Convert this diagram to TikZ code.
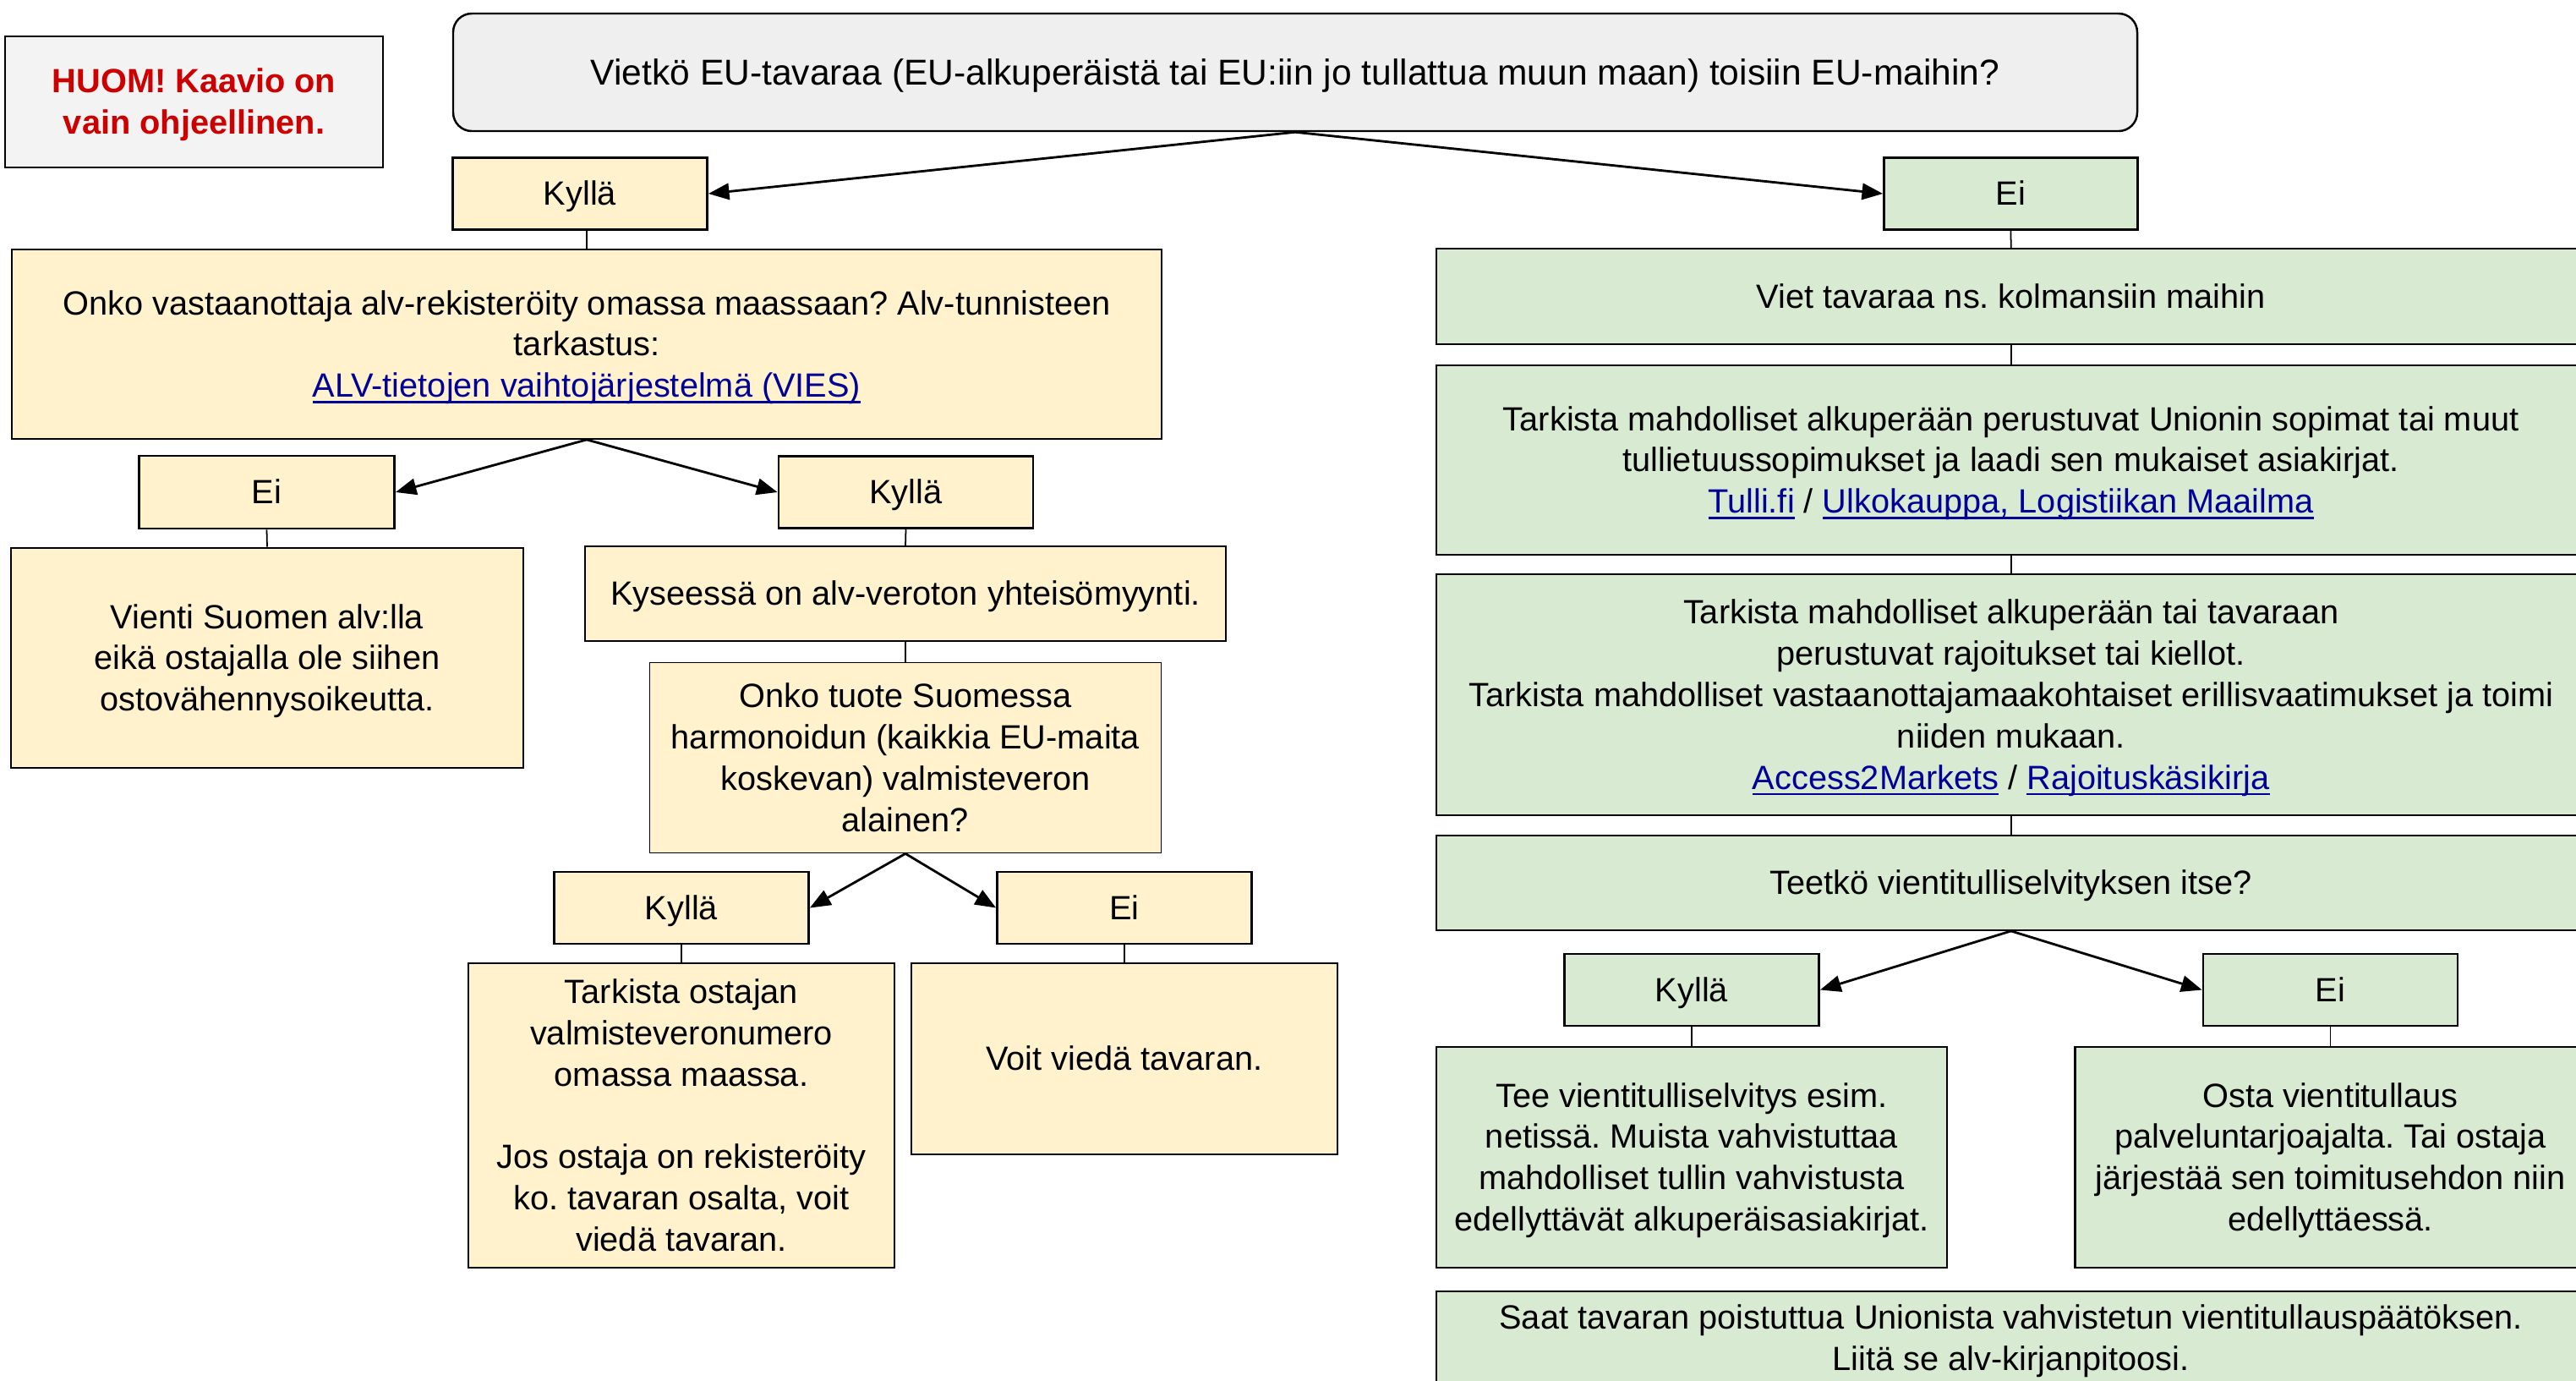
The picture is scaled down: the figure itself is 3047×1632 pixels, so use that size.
\documentclass[tikz,border=0pt]{standalone}
\usepackage{fontspec}
\setmainfont{Liberation Sans}
\usetikzlibrary{arrows.meta}
\frenchspacing
\definecolor{yel}{HTML}{FFF2CC}
\definecolor{grn}{HTML}{D9EAD3}
\definecolor{topgray}{HTML}{EFEFEF}
\definecolor{huomgray}{HTML}{F3F3F3}
\definecolor{huomred}{HTML}{CC0000}
\definecolor{linkblue}{HTML}{000099}
\newsavebox{\lnkbox}
\newcommand{\lnk}[1]{\textcolor{linkblue}{\sbox{\lnkbox}{#1}\rlap{\rule[-2pt]{\wd\lnkbox}{0.75pt}}\usebox{\lnkbox}}}
\newcommand{\fsz}{\fontsize{11.3}{13.9}\selectfont}
\newcommand{\topstrut}{\rule{0pt}{0.938em}}
\newcommand{\botstrut}{\rule[-0.239em]{0pt}{0.239em}}
\newcommand{\tx}[1]{\topstrut#1\botstrut}
\tikzset{
  wh/.style 2 args={minimum width=#1*0.01cm, minimum height=#2*0.01cm},
  basebox/.style={draw=black, inner sep=0pt, align=center, font=\fsz, line width=0.5pt},
  yelbox/.style={basebox, fill=yel},
  grnbox/.style={basebox, fill=grn},
  heavy/.style={line width=0.8pt},
  conn/.style={line width=0.5pt},
  arr/.style={line width=0.8pt, -{Triangle[length=7pt,width=5.5pt]}},
}
\begin{document}
\begin{tikzpicture}[x=0.01cm, y=-0.01cm]
\useasboundingbox (0,0) rectangle (3047,1632);
\clip (0,0) rectangle (3047,1632);
\fill[white] (0,0) rectangle (3047,1632);

% note box
\node[basebox, fill=huomgray, wh={447}{155}, font=\fsz\bfseries, text=huomred] (huom) at (229.5,120.5) {\tx{HUOM! Kaavio on\\vain ohjeellinen.}};

% top question
\node[basebox, fill=topgray, rounded corners=0.22cm, line width=0.7pt, wh={1992}{139}, font=\fontsize{12.1}{14.9}\selectfont] (top) at (1532,85.5) {\tx{Vietkö EU-tavaraa (EU-alkuperäistä tai EU:iin jo tullattua muun maan) toisiin EU-maihin?}};

\node[yelbox, heavy, wh={301}{85}] (kyl1) at (686,229) {\tx{Kyllä}};
\node[grnbox, heavy, wh={300}{85}] (ei1) at (2378.5,229) {\tx{Ei}};

% left branch
\node[yelbox, wh={1360}{224}] (q1) at (694,407) {\tx{Onko vastaanottaja alv-rekisteröity omassa maassaan? Alv-tunnisteen\\tarkastus:\\\lnk{ALV-tietojen vaihtojärjestelmä (VIES)}}};
\node[yelbox, heavy, wh={302}{86}] (ei2) at (315.5,582) {\tx{Ei}};
\node[yelbox, heavy, wh={301}{85}] (kyl2) at (1071.5,582) {\tx{Kyllä}};
\node[yelbox, heavy, wh={606}{260}] (vienti) at (316,778) {\tx{Vienti Suomen alv:lla\\eikä ostajalla ole siihen\\ostovähennysoikeutta.}};
\node[yelbox, wh={758}{112}] (kys) at (1071,702) {\tx{Kyseessä on alv-veroton yhteisömyynti.}};
\node[yelbox, wh={605}{225}] (onko) at (1071,896) {\tx{Onko tuote Suomessa\\harmonoidun (kaikkia EU-maita\\koskevan) valmisteveron\\alainen?}};
\node[yelbox, heavy, wh={301}{85}] (kyl3) at (806,1073.5) {\tx{Kyllä}};
\node[yelbox, heavy, wh={301}{85}] (ei3) at (1330,1073.5) {\tx{Ei}};
\node[yelbox, heavy, wh={504}{360}] (tark3) at (806,1319) {\tx{Tarkista ostajan\\valmisteveronumero\\omassa maassa.\\[13.9pt]Jos ostaja on rekisteröity\\ko. tavaran osalta, voit\\viedä tavaran.}};
\node[yelbox, heavy, wh={504}{226}] (voit) at (1330,1252) {\tx{Voit viedä tavaran.}};

% right branch
\node[grnbox, wh={1359}{113}] (viet) at (2378.7,350.5) {\tx{Viet tavaraa ns. kolmansiin maihin}};
\node[grnbox, wh={1359}{224}] (tark1) at (2378.7,544) {\tx{Tarkista mahdolliset alkuperään perustuvat Unionin sopimat tai muut\\tullietuussopimukset ja laadi sen mukaiset asiakirjat.\\\lnk{Tulli.fi} / \lnk{Ulkokauppa, Logistiikan Maailma}}};
\node[grnbox, wh={1359}{285}] (tark2) at (2378.7,821.6) {\tx{Tarkista mahdolliset alkuperään tai tavaraan\\perustuvat rajoitukset tai kiellot.\\Tarkista mahdolliset vastaanottajamaakohtaiset erillisvaatimukset ja toimi\\niiden mukaan.\\\lnk{Access2Markets} / \lnk{Rajoituskäsikirja}}};
\node[grnbox, wh={1359}{112}] (teet) at (2378.7,1044) {\tx{Teetkö vientitulliselvityksen itse?}};
\node[grnbox, heavy, wh={301}{85}] (kyl4) at (2001,1170.5) {\tx{Kyllä}};
\node[grnbox, heavy, wh={301}{85}] (ei4) at (2756.5,1170.5) {\tx{Ei}};
\node[grnbox, heavy, wh={604}{261}] (tee) at (2001,1368.5) {\tx{Tee vientitulliselvitys esim.\\netissä. Muista vahvistuttaa\\mahdolliset tullin vahvistusta\\edellyttävät alkuperäisasiakirjat.}};
\node[grnbox, heavy, wh={604}{261}] (osta) at (2756.5,1368.5) {\tx{Osta vientitullaus\\palveluntarjoajalta. Tai ostaja\\järjestää sen toimitusehdon niin\\edellyttäessä.}};
\node[grnbox, wh={1359}{110}] (saat) at (2378.7,1582) {\tx{Saat tavaran poistuttua Unionista vahvistetun vientitullauspäätöksen.\\Liitä se alv-kirjanpitoosi.}};

% arrows
\draw[arr] (top.south) -- (kyl1.east);
\draw[arr] (top.south) -- (ei1.west);
\draw[arr] (q1.south) -- (ei2.east);
\draw[arr] (q1.south) -- (kyl2.west);
\draw[arr] (onko.south) -- (kyl3.east);
\draw[arr] (onko.south) -- (ei3.west);
\draw[arr] (teet.south) -- (kyl4.east);
\draw[arr] (teet.south) -- (ei4.west);

% plain connectors
\draw[conn] (q1.north |- kyl1.south) -- (q1.north);
\draw[conn] (ei1.south) -- (viet.north);
\draw[conn] (viet.south) -- (tark1.north);
\draw[conn] (tark1.south) -- (tark2.north);
\draw[conn] (tark2.south) -- (teet.north);
\draw[conn] (ei2.south) -- (vienti.north);
\draw[conn] (kyl2.south) -- (kys.north);
\draw[conn] (kys.south) -- (onko.north);
\draw[conn] (kyl3.south) -- (tark3.north);
\draw[conn] (ei3.south) -- (voit.north);
\draw[conn] (kyl4.south) -- (tee.north);
\draw[conn] (ei4.south) -- (osta.north);
\end{tikzpicture}
\end{document}
